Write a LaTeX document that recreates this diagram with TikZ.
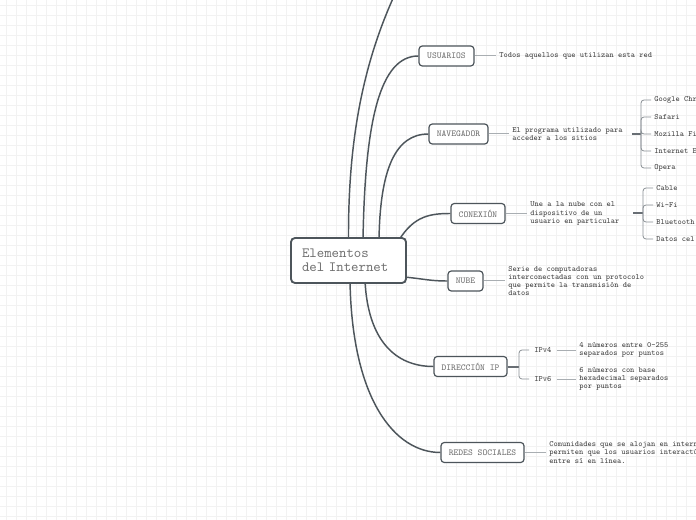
\documentclass[tikz,border=0pt]{standalone}
\usepackage{fontspec}
\usetikzlibrary{calc}
\definecolor{bord}{HTML}{4D555B}
\definecolor{lbl}{HTML}{707070}
\definecolor{notec}{HTML}{404040}
\definecolor{thinc}{HTML}{A9AEB2}
\definecolor{bracec}{HTML}{8A9095}
\definecolor{gridc}{HTML}{F2F2F2}
\tikzset{
 topic/.style={draw=bord, line width=0.9pt, rounded corners=2.5pt, fill=white, text=lbl,
   font=\ttfamily\fontsize{6.8}{7.5}\selectfont, inner sep=0pt, minimum height=15pt},
 central/.style={draw=bord, line width=1.4pt, rounded corners=3pt, fill=white, text=lbl,
   font=\ttfamily\fontsize{10.6}{10.5}\selectfont, inner xsep=8.25pt, inner ysep=0pt,
   text width=69.75pt, align=left, minimum height=33.75pt},
 note/.style={anchor=west, align=left, inner xsep=2.25pt, inner ysep=0pt, text=notec,
   font=\ttfamily\fontsize{6}{6.1}\selectfont},
 ipnode/.style={note, inner xsep=3.75pt},
 branch/.style={draw=bord, line width=1.1pt},
 leaf/.style={draw=thinc, line width=0.75pt},
 hub/.style={draw=bord!85, line width=1.5pt},
 brace/.style={draw=bracec, line width=0.6pt, rounded corners=2.25pt},
}
\begin{document}
\begin{tikzpicture}[x=0.75pt,y=-0.75pt]
\useasboundingbox (0,0) rectangle (696,520);
\clip (0,0) rectangle (696,520);
\fill[white] (0,0) rectangle (696,520);
\foreach \x in {6,16,...,696} \draw[gridc, line width=0.75pt] (\x,0) -- (\x,520);
\foreach \y in {6,16,...,520} \draw[gridc, line width=0.75pt] (0,\y) -- (696,\y);

% branch leaving the top edge
\coordinate (tp) at (412,-40);
\draw[branch] (348.5,238) .. controls (348,110) and (374,30) .. (tp);

% topic boxes
\node[topic, minimum width=41.25pt] (u) at (446.5,56) {USUARIOS};
\node[topic, minimum width=44.25pt] (n) at (458.5,134) {NAVEGADOR};
\node[topic, minimum width=40.5pt] (cx) at (478,213.5) {CONEXIÓN};
\node[topic, minimum width=26.25pt] (nb) at (465.5,281) {NUBE};
\node[topic, minimum width=54.75pt] (ip) at (470.5,366.5) {DIRECCIÓN IP};
\node[topic, minimum width=62.25pt] (rs) at (482.5,452.5) {REDES SOCIALES};

% branches
\draw[branch] (363,240) .. controls (365,120) and (380,56) .. (u.west);
\draw[branch] (379,240) .. controls (380,170) and (395,134) .. (n.west);
\draw[branch] (399,240) .. controls (414,216) and (430,213.5) .. (cx.west);
\draw[branch] (404,277) .. controls (425,279) and (430,281) .. (nb.west);
\draw[branch] (365,281) .. controls (368,340) and (395,366.5) .. (ip.west);
\draw[branch] (350,281) .. controls (352,400) and (395,452.5) .. (rs.west);

\node[central] (c) at (348.5,260.5) {Elementos\\del Internet};

% USUARIOS
\node[note] (un) at (496,56) {Todos aquellos que utilizan esta red};
\draw[leaf] (u.east) -- (un.west);

% NAVEGADOR
\node[note] (nn) at (509,134) {El programa utilizado para\\acceder a los sitios};
\draw[leaf] (n.east) -- (nn.west);
\coordinate (nh) at (641,134);
\draw[hub, shorten <=4.5pt] (nn.east) -- (nh);
\node[note] (g1) at (651,100) {Google Chr};
\node[note] (g2) at (651,117) {Safari};
\node[note] (g3) at (651,134) {Mozilla Fi};
\node[note] (g4) at (651,151) {Internet E};
\node[note] (g5) at (651,168) {Opera};
\foreach \i in {g1,g2,g3,g4,g5} \draw[brace] (nh) |- (\i.west);

% CONEXION
\node[note] (cn) at (527,213.5) {Une a la nube con el\\dispositivo de un\\usuario en particular};
\draw[leaf] (cx.east) -- (cn.west);
\coordinate (ch) at (643,213.5);
\draw[hub, shorten <=8pt] (cn.east) -- (ch);
\node[note] (k1) at (653,188) {Cable};
\node[note] (k2) at (653,205) {Wi-Fi};
\node[note] (k3) at (653,222) {Bluetooth};
\node[note] (k4) at (653,239) {Datos cel};
\foreach \i in {k1,k2,k3,k4} \draw[brace] (ch) |- (\i.west);

% NUBE
\node[note] (bn) at (505,281) {Serie de computadoras\\interconectadas con un protocolo\\que permite la transmisión de\\datos};
\draw[leaf] (nb.east) -- (bn.west);

% DIRECCION IP
\coordinate (ih) at (519,366.5);
\draw[hub] (ip.east) -- (ih);
\node[ipnode] (i4) at (529,350) {IPv4};
\node[ipnode] (i6) at (529,379) {IPv6};
\draw[brace] (ih) |- (i4.west);
\draw[brace] (ih) |- (i6.west);
\node[note] (i4n) at (576,350) {4 números entre 0-255\\separados por puntos};
\node[note] (i6n) at (576,379) {6 números con base\\hexadecimal separados\\por puntos};
\draw[leaf] (i4.east) -- (i4n.west);
\draw[leaf] (i6.east) -- (i6n.west);

% REDES SOCIALES
\node[note] (rn) at (546,452.5) {Comunidades que se alojan en intern\\permiten que los usuarios interactú\\entre sí en línea.};
\draw[leaf] (rs.east) -- (rn.west);
\end{tikzpicture}
\end{document}
